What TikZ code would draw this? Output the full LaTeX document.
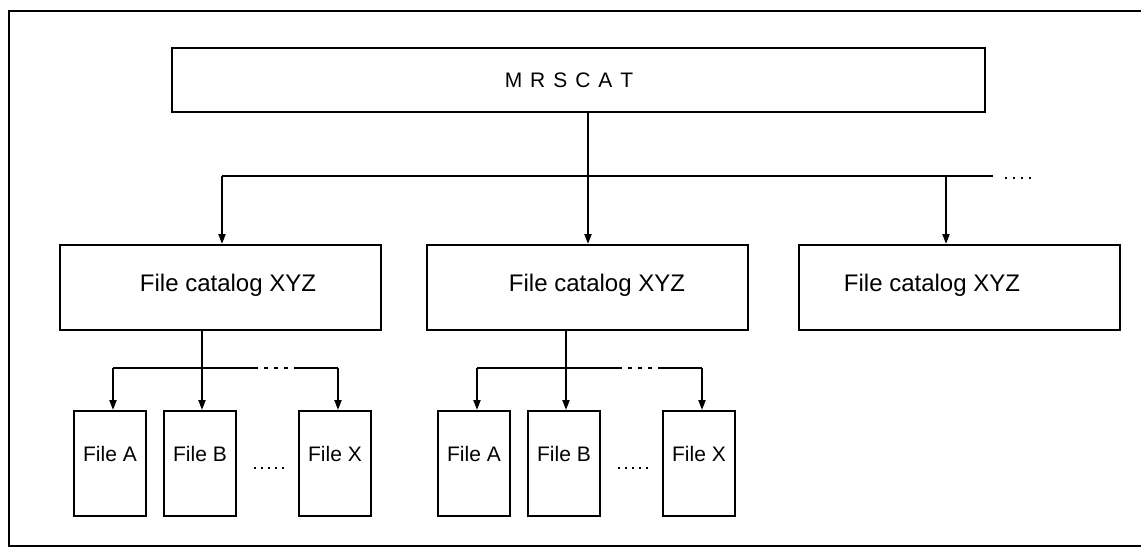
\documentclass[tikz,border=0pt]{standalone}
\usepackage{fontspec}
\setmainfont{Liberation Sans}
\newfontfamily\spacedfont[LetterSpace=10]{Liberation Sans}
\usetikzlibrary{arrows.meta}

\begin{document}
\begin{tikzpicture}[x=0.5pt,y=-0.5pt,
        line/.style={black, line width=1pt},
        arrow/.style={black, line width=1pt, -{Triangle[length=5pt,width=3.5pt]}},
        dotline/.style={black, line width=1pt, dash pattern=on 1pt off 2.5pt},
        bigbox/.style={draw=black, line width=1pt, inner sep=0pt},
        catbox/.style={bigbox, minimum width=160.5pt, minimum height=42.5pt},
        cattext/.style={font=\fontsize{12}{14}\selectfont, text height=8.5pt, text depth=0pt},
        filebox/.style={draw=black, line width=1pt, inner sep=0pt,
            minimum width=36pt, minimum height=52.5pt,
            font=\fontsize{10.5}{12}\selectfont, text height=7.5pt, text depth=10pt}]
    \tikzset{file group/.pic={
        \coordinate (-top) at (0,0);
        \coordinate (-left) at (-89,0);
        \coordinate (-right) at (136,0);
        \coordinate (-gapa) at (52,0);
        \coordinate (-gapb) at (94,0);
        \node[filebox] (-a) at (-92,95.5) {File A};
        \node[filebox] (-b) at (-2,95.5) {File B};
        \node[filebox] (-x) at (133,95.5) {File X};
        \draw[line] (-left) -- (-gapa) (-gapb) -- (-right);
        \draw[dotline, line width=1.3pt, dash pattern=on 2pt off 3pt] (-gapa) -- (-gapb);
        \draw[arrow] (-left) -- (-left |- -a.north);
        \draw[arrow] (-top) -- (-top |- -b.north);
        \draw[arrow] (-right) -- (-right |- -x.north);
        \draw[dotline] (52,100) -- (87,100);
    }}
    \useasboundingbox (0,0) rectangle (1141,548);

    % Outer frame, cut off at the right.
    \draw[line width=1.3pt] (1141,11) -- (9,11) -- (9,546) -- (1141,546);

    % The master catalog.
    \node[bigbox, minimum width=406.5pt, minimum height=32pt] (mrscat) at (578.5,80) {};
    \node[font=\spacedfont\fontsize{10.5}{12}\selectfont, text height=7.5pt, text depth=0pt]
        (mrscattext) at (569,79.5) {M R S C A T};

    % The file catalogs.
    \node[catbox] (cat1) at (220.5,287.5) {};
    \node[catbox] (cat2) at (587.5,287.5) {};
    \node[catbox] (cat3) at (959.5,287.5) {};
    \node[cattext] (cat1text) at (228,283) {File catalog XYZ};
    \node[cattext] (cat2text) at (597,283) {File catalog XYZ};
    \node[cattext] (cat3text) at (932,283) {File catalog XYZ};

    \coordinate (bus) at (588,176);
    \coordinate (bus1) at (222,176);
    \coordinate (bus3) at (946,176);
    \coordinate (busend) at (993,176);
    \draw[line] (mrscat.south -| bus) -- (bus);
    \draw[line] (bus1) -- (busend);
    \draw[dotline, dash pattern=on 1pt off 3pt] (1005,178) -- (1035,178);
    \draw[arrow] (bus1) -- (bus1 |- cat1.north);
    \draw[arrow] (bus) -- (bus |- cat2.north);
    \draw[arrow] (bus3) -- (bus3 |- cat3.north);

    % The files below the first two catalogs.
    \pic (g1) at (202,368) {file group};
    \pic (g2) at (566,368) {file group};
    \draw[line] (cat1.south -| g1-top) -- (g1-top);
    \draw[line] (cat2.south -| g2-top) -- (g2-top);
\end{tikzpicture}
\end{document}
